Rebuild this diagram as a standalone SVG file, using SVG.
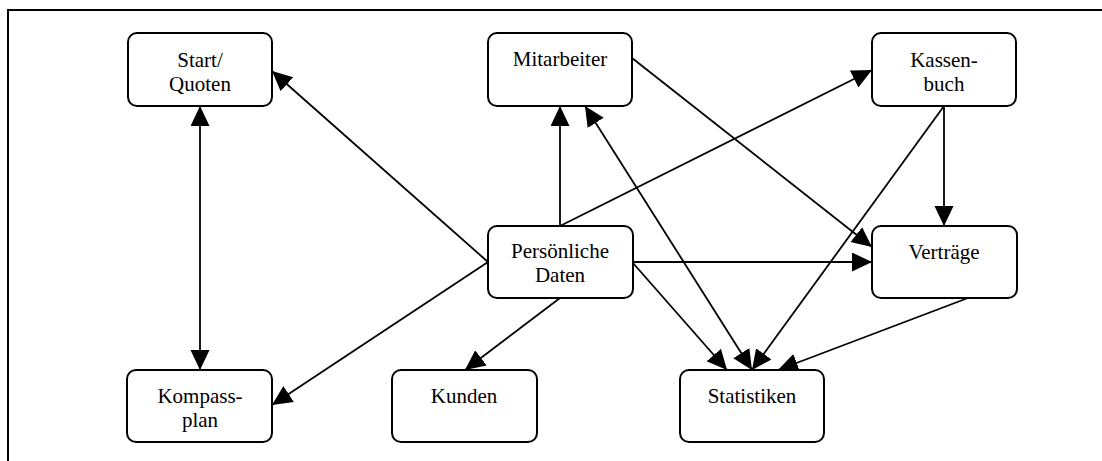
<svg xmlns="http://www.w3.org/2000/svg" width="1102" height="461" viewBox="0 0 1102 461">
<style>
.node rect{fill:#fff;stroke:#000;stroke-width:2}
.node text{font-family:"Liberation Serif","Times New Roman",serif;font-size:21px;fill:#000;text-anchor:middle}
.edges line{stroke:#000;stroke-width:1.8;marker-end:url(#ah)}
.frame{stroke:#000;stroke-width:2;fill:none}
</style>
<defs>
<marker id="ah" markerUnits="userSpaceOnUse" markerWidth="21" markerHeight="20" refX="20" refY="9.5" orient="auto-start-reverse" viewBox="0 0 21 20">
<path d="M0,0 L20,9.5 L0,19 z" fill="#000"/>
</marker>
</defs>
<rect width="1102" height="461" fill="#fff"/>
<path class="frame" d="M8,461 L8,10 L1102,10"/>
<g class="edges">
<line x1="200" y1="106" x2="200" y2="370" marker-start="url(#ah)"/>
<line x1="488" y1="262" x2="272" y2="71"/>
<line x1="488" y1="262" x2="272" y2="405"/>
<line x1="560" y1="226" x2="560" y2="106"/>
<line x1="560" y1="226" x2="872" y2="70"/>
<line x1="633" y1="262" x2="872" y2="262"/>
<line x1="633" y1="263" x2="727" y2="370"/>
<line x1="560" y1="298" x2="465" y2="370"/>
<line x1="632" y1="58" x2="872" y2="247"/>
<line x1="585" y1="106" x2="752" y2="370" marker-start="url(#ah)"/>
<line x1="944" y1="106" x2="752" y2="370"/>
<line x1="944" y1="106" x2="944" y2="226"/>
<line x1="968" y1="298" x2="778" y2="370"/>
</g>
<g id="start" class="node"><rect x="128" y="33" width="144" height="73" rx="9"/><text x="200" y="67">Start/</text><text x="200" y="91">Quoten</text></g>
<g id="mitarbeiter" class="node"><rect x="488" y="33" width="144" height="73" rx="9"/><text x="560" y="66">Mitarbeiter</text></g>
<g id="kassenbuch" class="node"><rect x="872" y="33" width="144" height="73" rx="9"/><text x="944" y="67">Kassen-</text><text x="944" y="91">buch</text></g>
<g id="persdaten" class="node"><rect x="488" y="226" width="145" height="72" rx="9"/><text x="560" y="258">Persönliche</text><text x="560" y="282">Daten</text></g>
<g id="vertraege" class="node"><rect x="872" y="226" width="145" height="72" rx="9"/><text x="944" y="259">Verträge</text></g>
<g id="kompass" class="node"><rect x="127" y="370" width="145" height="72" rx="9"/><text x="200" y="403">Kompass-</text><text x="200" y="427">plan</text></g>
<g id="kunden" class="node"><rect x="392" y="370" width="145" height="72" rx="9"/><text x="464" y="403">Kunden</text></g>
<g id="statistiken" class="node"><rect x="680" y="370" width="144" height="72" rx="9"/><text x="752" y="403">Statistiken</text></g>
</svg>
